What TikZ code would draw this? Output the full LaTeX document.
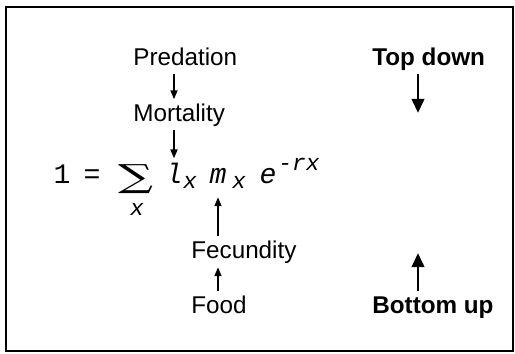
\documentclass[tikz,border=0pt]{standalone}
\usepackage{fontspec}
\setmainfont{Liberation Sans}
\newfontfamily\eqfont{Liberation Mono}
\newfontfamily\sumfont{DejaVu Serif}
\usepackage{graphicx}
\usepackage{tikz}
\usetikzlibrary{arrows.meta, positioning}

\begin{document}
\begin{tikzpicture}[
			lbl/.style={anchor=base west, inner sep=0.08cm, text height=0.35cm, text depth=0.1cm,
				font=\fontsize{13.8}{16}\selectfont},
			bold/.style={lbl, font=\fontsize{13.8}{16}\selectfont\bfseries},
			eqnum/.style={anchor=base, inner sep=0.08cm, font=\eqfont\fontsize{16}{18}\selectfont},
			eqvar/.style={anchor=base, inner sep=0.08cm, text depth=0.2cm,
				font=\eqfont\itshape\fontsize{16}{18}\selectfont},
			eqsub/.style={anchor=base, inner sep=0pt, font=\eqfont\itshape\fontsize{13}{15}\selectfont},
			arr/.style={-{Triangle[width=4pt,length=5pt]}, line width=0.8pt},
			bigarr/.style={-{Triangle[width=7pt,length=8pt]}, line width=1.7pt},
			frame/.style={draw=black, line width=0.8pt}
			]
			\useasboundingbox (0,0) rectangle (10.3,7.06);
			\draw[frame] (0.12,0.04) rectangle (10.26,6.92);
			
			% equation
			\node[eqnum] (one) at (1.24,3.4) {1};
			\node[eqnum] (eqs) at (1.84,3.4) {=};
			\node[inner sep=0pt] (sum) at (2.71,3.48) {\resizebox*{0.7cm}{0.58cm}{\sumfont ∑}};
			\node[eqsub] (sumx) at (2.74,2.76) {x};
			\node[eqvar] (l) at (3.48,3.4) {l};
			\node[eqsub] (lsub) at (3.8,3.3) {x};
			\node[eqvar] (m) at (4.36,3.4) {m};
			\node[eqsub] (msub) at (4.78,3.3) {x};
			\node[eqvar] (e) at (5.36,3.4) {e};
			\node[eqsub] (ex) at (5.98,3.66) {-rx};
			
			% causes
			\node[lbl] (pred) at (2.58,5.76) {Predation};
			\node[lbl] (mort) at (2.58,4.64) {Mortality};
			\node[lbl] (fec) at (3.74,1.90) {Fecundity};
			\node[lbl] (food) at (3.74,0.80) {Food};
			
			\node[bold] (td) at (7.36,5.76) {Top down};
			\node[bold] (bu) at (7.36,0.80) {Bottom up};
			\coordinate (tdend) at (8.36,4.8);
			\coordinate (buend) at (8.36,2.0);
			
			\draw[arr] (pred.south -| l.north) -- (mort.north -| l.north);
			\draw[arr] (mort.south -| l.north) -- (l.north);
			\draw[arr] (food.north -| m.south) -- (fec.south -| m.south);
			\draw[arr] (fec.north -| m.south) -- (m.south);
			\draw[bigarr] (td.south -| tdend) -- (tdend);
			\draw[bigarr] (bu.north -| buend) -- (buend);
		\end{tikzpicture}
\end{document}
